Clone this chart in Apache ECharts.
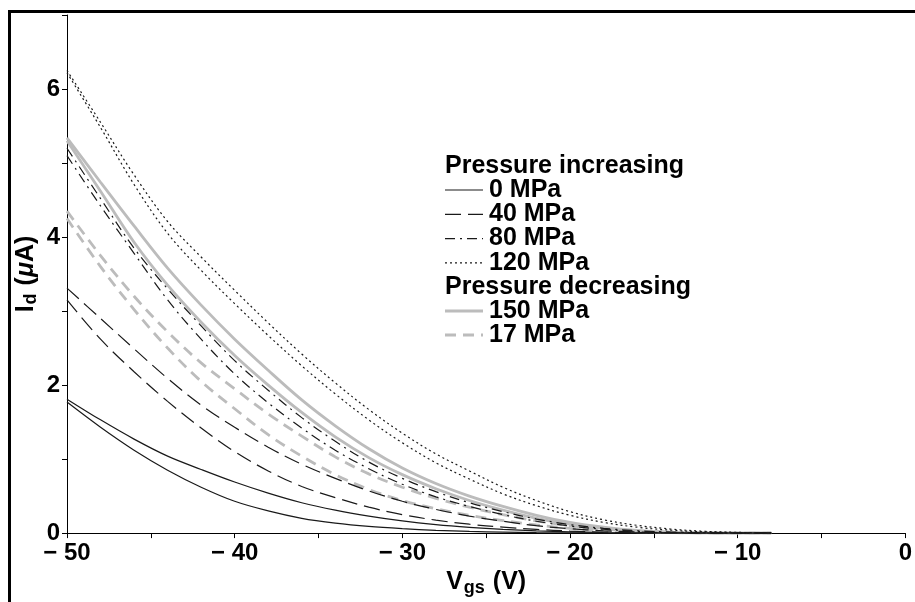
<!DOCTYPE html>
<html>
<head>
<meta charset="utf-8">
<script src="https://cdn.jsdelivr.net/npm/echarts@6/dist/echarts.min.js"></script>
<style>
  html, body { margin: 0; padding: 0; background: #fff; }
  #chart { width: 915px; height: 602px; }
</style>
</head>
<body>
<div id="chart"></div>
<script>
// Gate voltage sweep points (V)
const vgs = [-50, -48, -46, -44, -42, -40, -38, -36, -34, -32, -30, -28, -26, -24, -22, -20, -18, -16, -14, -12, -10, -8];

// Drain current (µA); every pressure has a forward and a reverse sweep branch
const id0Upper   = [1.81, 1.53, 1.27, 1.04, 0.86, 0.69, 0.54, 0.41, 0.31, 0.23, 0.165, 0.115, 0.078, 0.05, 0.03, 0.017, 0.008, 0.003, 0.001, 0, 0, 0];
const id0Lower   = [1.77, 1.43, 1.12, 0.85, 0.62, 0.43, 0.30, 0.20, 0.135, 0.09, 0.06, 0.038, 0.023, 0.013, 0.007, 0.003, 0.001, 0, 0, 0, 0, 0];
const id40Upper  = [3.31, 2.90, 2.49, 2.09, 1.73, 1.43, 1.16, 0.93, 0.74, 0.57, 0.43, 0.32, 0.23, 0.16, 0.10, 0.06, 0.032, 0.015, 0.005, 0.001, 0, 0];
const id40Lower  = [3.15, 2.62, 2.18, 1.78, 1.42, 1.10, 0.84, 0.63, 0.48, 0.35, 0.25, 0.175, 0.12, 0.08, 0.05, 0.028, 0.014, 0.006, 0.002, 0, 0, 0];
const id80Upper  = [5.20, 4.52, 3.85, 3.30, 2.80, 2.33, 1.93, 1.56, 1.24, 0.96, 0.74, 0.56, 0.41, 0.29, 0.19, 0.115, 0.065, 0.032, 0.014, 0.005, 0.001, 0];
const id80Lower  = [5.10, 4.42, 3.78, 3.15, 2.62, 2.15, 1.76, 1.42, 1.12, 0.87, 0.66, 0.49, 0.36, 0.25, 0.16, 0.095, 0.052, 0.025, 0.01, 0.003, 0, 0];
const id120Upper = [6.25, 5.55, 4.84, 4.21, 3.73, 3.28, 2.84, 2.42, 2.03, 1.67, 1.35, 1.07, 0.84, 0.62, 0.44, 0.29, 0.18, 0.105, 0.055, 0.025, 0.01, 0];
const id120Lower = [6.22, 5.48, 4.71, 4.05, 3.55, 3.10, 2.67, 2.26, 1.88, 1.53, 1.22, 0.95, 0.73, 0.53, 0.37, 0.24, 0.145, 0.08, 0.04, 0.017, 0.006, 0];
const id150Upper = [5.34, 4.74, 4.15, 3.58, 3.08, 2.62, 2.20, 1.80, 1.45, 1.14, 0.88, 0.67, 0.50, 0.36, 0.24, 0.145, 0.08, 0.035, 0.012, 0.003, 0, 0];
const id150Lower = [5.30, 4.62, 3.93, 3.35, 2.85, 2.40, 2.00, 1.63, 1.30, 1.02, 0.79, 0.60, 0.44, 0.31, 0.20, 0.12, 0.065, 0.028, 0.009, 0.002, 0, 0];
const id17Upper  = [4.35, 3.75, 3.20, 2.72, 2.30, 1.95, 1.61, 1.31, 1.03, 0.80, 0.62, 0.47, 0.35, 0.25, 0.165, 0.10, 0.055, 0.025, 0.009, 0.002, 0, 0];
const id17Lower  = [4.25, 3.60, 3.02, 2.50, 2.05, 1.68, 1.33, 1.04, 0.79, 0.59, 0.44, 0.33, 0.24, 0.17, 0.11, 0.065, 0.035, 0.016, 0.006, 0.001, 0, 0];

// Axis ticks that carry a label
const xTicks = [-50, -40, -30, -20, -10, 0];
const yTicks = [0, 2, 4, 6];

// Legend groups
const legendIncreasing = ['0 MPa', '40 MPa', '80 MPa', '120 MPa'];
const legendDecreasing = ['150 MPa', '17 MPa'];

const FONT = 'Liberation Sans, Arial, sans-serif';
const BLACK = '#1a1a1a';
const GREY = '#bcbcbc';

const styles = {
  '0 MPa':   { color: BLACK, width: 1.2, type: 'solid' },
  '40 MPa':  { color: BLACK, width: 1.2, type: [16, 7] },
  '80 MPa':  { color: BLACK, width: 1.2, type: [10, 5, 2, 5] },
  '120 MPa': { color: BLACK, width: 1.2, type: [2, 3] },
  '150 MPa': { color: GREY,  width: 2.8, type: 'solid' },
  '17 MPa':  { color: GREY,  width: 2.8, type: [11, 7] }
};

const branches = [
  ['0 MPa', id0Upper], ['0 MPa', id0Lower],
  ['40 MPa', id40Upper], ['40 MPa', id40Lower],
  ['17 MPa', id17Upper], ['17 MPa', id17Lower],
  ['150 MPa', id150Upper], ['150 MPa', id150Lower],
  ['80 MPa', id80Upper], ['80 MPa', id80Lower],
  ['120 MPa', id120Upper], ['120 MPa', id120Lower]
];

const series = branches.map(([name, vals]) => {
  const s = styles[name];
  return {
    type: 'line',
    name: name,
    data: vgs.map((v, i) => [v, vals[i]]),
    showSymbol: false,
    smooth: 0.35,
    lineStyle: { color: s.color, width: s.width, type: s.type },
    z: s.color === GREY ? 2 : 3
  };
});

// Legend block: group headers, line samples and labels
const legendX = 445, sampleW = 38, textX = 489;
const graphics = [];
function header(text, y) {
  graphics.push({ type: 'text', x: legendX, y: y,
    style: { text: text, font: 'bold 25px ' + FONT, fill: '#000', verticalAlign: 'middle' } });
}
function entry(name, y) {
  const s = styles[name];
  graphics.push({ type: 'line', shape: { x1: legendX, y1: y, x2: legendX + sampleW, y2: y },
    style: { stroke: s.color, lineWidth: s.width, lineDash: s.type === 'solid' ? null : s.type } });
  graphics.push({ type: 'text', x: textX, y: y,
    style: { text: name, font: 'bold 25px ' + FONT, fill: '#000', verticalAlign: 'middle' } });
}
header('Pressure increasing', 166);
legendIncreasing.forEach((n, k) => entry(n, 190 + k * 24.3));
header('Pressure decreasing', 287);
legendDecreasing.forEach((n, k) => entry(n, 311 + k * 24));

// Figure frame (top and left edges)
graphics.push({ type: 'polyline', shape: { points: [[9.5, 602], [9.5, 11.5], [915, 11.5]] },
  style: { stroke: '#000', lineWidth: 3, fill: null } });

// Y axis title, rotated
graphics.push({ type: 'text', x: 26, y: 274, rotation: Math.PI / 2,
  style: {
    text: '{a|I}{s|d}{a| (}{m|μ}{a|A)}',
    align: 'center', verticalAlign: 'middle',
    rich: {
      a: { font: 'bold 25px ' + FONT, fill: '#000' },
      s: { font: 'bold 18px ' + FONT, fill: '#000', padding: [10, 1, 0, 1] },
      m: { font: 'italic bold 25px ' + FONT, fill: '#000' }
    }
  } });

const chart = echarts.init(document.getElementById('chart'), null, { renderer: 'canvas' });
chart.setOption({
  animation: false,
  backgroundColor: '#fff',
  grid: { left: 67, right: 2, top: 15, bottom: 49, containLabel: false },
  xAxis: {
    type: 'value', min: -50, max: 0, interval: 5,
    name: '{a|V}{s|gs}{a| (V)}',
    nameLocation: 'middle', nameGap: 21,
    nameTextStyle: {
      rich: {
        a: { fontFamily: FONT, fontWeight: 'bold', fontSize: 25, color: '#000' },
        s: { fontFamily: FONT, fontWeight: 'bold', fontSize: 18, color: '#000', padding: [11, 1, 0, 1] }
      }
    },
    axisLine: { onZero: false, lineStyle: { color: '#000', width: 1 } },
    axisTick: { inside: false, length: 5, lineStyle: { color: '#000' } },
    splitLine: { show: false },
    axisLabel: {
      margin: 8, color: '#000', fontFamily: FONT, fontWeight: 'bold', fontSize: 24,
      formatter: v => xTicks.includes(v) ? (v < 0 ? '\u2212 ' + Math.abs(v) : String(v)) : ''
    }
  },
  yAxis: {
    type: 'value', min: 0, max: 7, interval: 1,
    axisLine: { show: true, onZero: false, lineStyle: { color: '#000', width: 1 } },
    axisTick: { show: true, inside: false, length: 5, lineStyle: { color: '#000' } },
    splitLine: { show: false },
    axisLabel: {
      margin: 7, color: '#000', fontFamily: FONT, fontWeight: 'bold', fontSize: 24,
      formatter: v => yTicks.includes(v) ? String(v) : ''
    }
  },
  series: series,
  graphic: graphics
});
</script>
</body>
</html>
